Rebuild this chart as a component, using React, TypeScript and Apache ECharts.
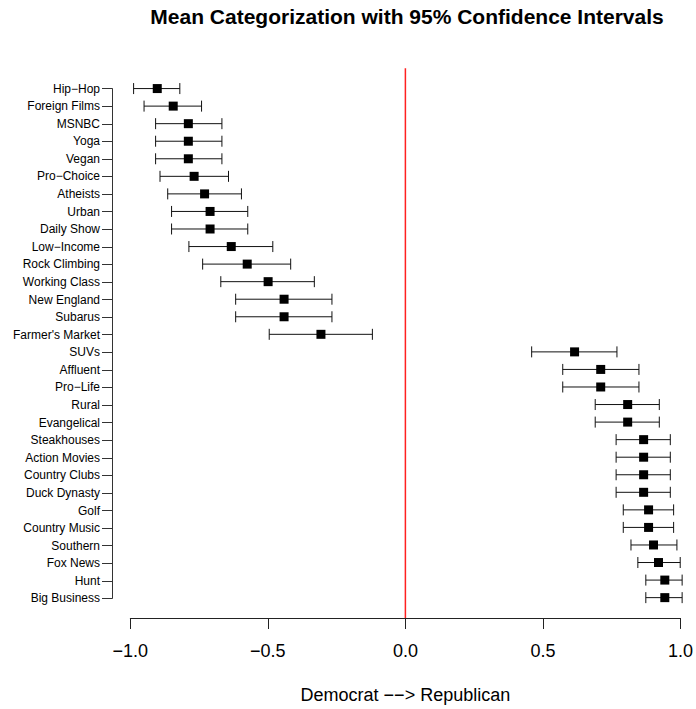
import React, { useEffect, useRef } from "react";
import * as echarts from "echarts";

// Categories, top to bottom
const categories = [
  "Hip−Hop", "Foreign Films", "MSNBC", "Yoga", "Vegan", "Pro−Choice", "Atheists",
  "Urban", "Daily Show", "Low−Income", "Rock Climbing", "Working Class",
  "New England", "Subarus", "Farmer's Market", "SUVs", "Affluent", "Pro−Life",
  "Rural", "Evangelical", "Steakhouses", "Action Movies", "Country Clubs",
  "Duck Dynasty", "Golf", "Country Music", "Southern", "Fox News", "Hunt",
  "Big Business",
];

// Mean categorization score (−1 = Democrat, 1 = Republican)
const means = [
  -0.902, -0.844, -0.789, -0.789, -0.789, -0.768, -0.730,
  -0.710, -0.710, -0.633, -0.575, -0.499,
  -0.441, -0.441, -0.307, 0.615, 0.710, 0.710,
  0.808, 0.808, 0.866, 0.866, 0.866,
  0.866, 0.884, 0.884, 0.902, 0.920, 0.943,
  0.943,
];

// Lower bound of the 95% confidence interval
const lower = [
  -0.988, -0.950, -0.908, -0.908, -0.908, -0.892, -0.864,
  -0.850, -0.850, -0.787, -0.737, -0.671,
  -0.617, -0.617, -0.495, 0.459, 0.572, 0.572,
  0.690, 0.690, 0.766, 0.766, 0.766,
  0.766, 0.792, 0.792, 0.820, 0.845, 0.874,
  0.874,
];

// Upper bound of the 95% confidence interval
const upper = [
  -0.820, -0.741, -0.667, -0.667, -0.667, -0.643, -0.596,
  -0.573, -0.573, -0.482, -0.417, -0.331,
  -0.267, -0.267, -0.120, 0.769, 0.849, 0.849,
  0.923, 0.923, 0.963, 0.963, 0.963,
  0.963, 0.975, 0.975, 0.987, 0.999, 1.006,
  1.006,
];

const xTicks = [-1, -0.5, 0, 0.5, 1];

// Reference line at the neutral point
const neutral = 0;

const FONT = "'Liberation Sans', Arial, Helvetica, sans-serif";

export default function App() {
  const ref = useRef<HTMLDivElement>(null);

  useEffect(() => {
    if (!ref.current) return;
    const chart = echarts.init(ref.current, undefined, { renderer: "svg" });
    const n = categories.length;
    const pad = (n - 1) * 0.04;
    const yMin = -pad;
    const yMax = n - 1 + pad;

    const intervals = categories.map((_, i) => [lower[i], upper[i], means[i], i]);
    const points = categories.map((_, i) => [means[i], i]);

    chart.setOption({
      animation: false,
      backgroundColor: "#ffffff",
      textStyle: { fontFamily: FONT },
      graphic: [
        {
          type: "text",
          x: 407,
          y: 16,
          style: {
            text: "Mean Categorization with 95% Confidence Intervals",
            font: `bold 21px ${FONT}`,
            fill: "#000",
            textAlign: "center",
            textVerticalAlign: "middle",
          },
        },
      ],
      grid: [
        // plot region
        { left: 130.3, right: 14.7, top: 68.2, height: 550.6 },
        // category axis, drawn from the first to the last category
        { left: 112, width: 1, top: 88.6, height: 509.8 },
      ],
      xAxis: [
        {
          gridIndex: 0,
          type: "value",
          position: "bottom",
          min: -1,
          max: 1,
          interval: 0.5,
          name: "Democrat −−> Republican",
          nameLocation: "middle",
          nameGap: 68,
          nameTextStyle: { fontSize: 18, color: "#000", fontFamily: FONT },
          axisLine: { show: true, onZero: false, lineStyle: { color: "#222", width: 1 } },
          axisTick: { show: true, length: 11, lineStyle: { color: "#222", width: 1 } },
          axisLabel: {
            fontSize: 18,
            color: "#000",
            margin: 24,
            fontFamily: FONT,
            formatter: (v: number) =>
              xTicks.includes(v) ? v.toFixed(1).replace("-", "−") : "",
          },
          splitLine: { show: false },
        },
        { gridIndex: 1, type: "value", show: false },
      ],
      yAxis: [
        {
          gridIndex: 0,
          type: "value",
          min: yMin,
          max: yMax,
          inverse: true,
          show: false,
          axisLine: { show: false, onZero: false },
          axisTick: { show: false },
          axisLabel: { show: false },
          splitLine: { show: false },
        },
        {
          gridIndex: 1,
          type: "category",
          data: categories,
          inverse: true,
          boundaryGap: false,
          axisLine: { show: true, onZero: false, lineStyle: { color: "#333", width: 1 } },
          axisTick: { show: true, length: 10, lineStyle: { color: "#333", width: 1 } },
          axisLabel: {
            fontSize: 12,
            color: "#000",
            margin: 12,
            fontFamily: FONT,
            interval: 0,
          },
          splitLine: { show: false },
        },
      ],
      series: [
        {
          // vertical reference line spanning the plot region
          type: "custom",
          xAxisIndex: 0,
          yAxisIndex: 0,
          clip: false,
          silent: true,
          itemStyle: { color: "#ff2020" },
          data: [[neutral, yMin, yMax]],
          encode: { x: 0, y: [1, 2] },
          renderItem: (_params: any, api: any) => {
            const a = api.coord([api.value(0), api.value(1)]);
            const b = api.coord([api.value(0), api.value(2)]);
            return {
              type: "rect",
              shape: { x: a[0] - 0.75, y: a[1], width: 1.5, height: b[1] - a[1] },
              style: { fill: "#ff2020", stroke: null },
            };
          },
          z: 10,
        },
        {
          type: "custom",
          xAxisIndex: 0,
          yAxisIndex: 0,
          clip: false,
          silent: true,
          dimensions: ["lo", "hi", "mean", "idx"],
          encode: { x: ["lo", "hi"], y: "idx" },
          data: intervals,
          renderItem: (_params: any, api: any) => {
            const y = api.value(3);
            const a = api.coord([api.value(0), y]);
            const b = api.coord([api.value(1), y]);
            const h = 5.5;
            const style = { stroke: "#111", lineWidth: 1 };
            return {
              type: "group",
              children: [
                { type: "line", shape: { x1: a[0], y1: a[1], x2: b[0], y2: b[1] }, style },
                { type: "line", shape: { x1: a[0], y1: a[1] - h, x2: a[0], y2: a[1] + h }, style },
                { type: "line", shape: { x1: b[0], y1: b[1] - h, x2: b[0], y2: b[1] + h }, style },
              ],
            };
          },
          z: 2,
        },
        {
          type: "scatter",
          xAxisIndex: 0,
          yAxisIndex: 0,
          symbol: "rect",
          symbolSize: 9,
          silent: true,
          itemStyle: { color: "#000", opacity: 1 },
          data: points,
          z: 3,
        },
      ],
    });

    return () => chart.dispose();
  }, []);

  return (
    <div
      ref={ref}
      style={{ position: "fixed", left: 0, top: 0, width: 696, height: 709, background: "#fff" }}
    />
  );
}
